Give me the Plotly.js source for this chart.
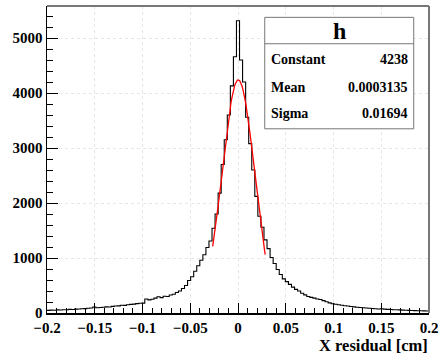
<!DOCTYPE html>
<html>
<head>
<meta charset="utf-8">
<script src="https://cdn.plot.ly/plotly-3.0.1.min.js"></script>
<style>html,body{margin:0;padding:0;background:#fff;}#chart{width:444px;height:354px;}</style>
</head>
<body>
<div id="chart"></div>
<script>
// Histogram: 125 bins over [-0.2, 0.2]
const xMin = -0.2;
const xMax = 0.2;
const counts = [
  48, 52, 50, 56, 54, 60, 58, 66, 63, 70,
  74, 78, 80, 86, 92, 110, 96, 100, 104, 112,
  110, 120, 126, 130, 140, 138, 150, 156, 162, 170,
  176, 180, 255, 238, 250, 270, 296, 280, 305, 300,
  328, 340, 372, 400, 445, 500, 590, 660, 760, 860,
  960, 1060, 1190, 1310, 1540, 1800, 2180, 2700, 3150, 3600,
  4130, 4660, 5315, 4600, 4200, 3560, 3080, 2600, 2120, 1760,
  1560, 1330, 1170, 1010, 900, 790, 700, 620, 570, 520,
  470, 430, 400, 360, 330, 300, 285, 270, 255, 245,
  225, 205, 185, 168, 160, 150, 140, 132, 126, 118,
  112, 104, 100, 95, 90, 86, 82, 78, 74, 76,
  70, 66, 64, 60, 58, 56, 52, 50, 48, 46,
  44, 42, 40, 38, 36
];
// Gaussian fit parameters (stats box)
const fitConstant = 4238;
const fitMean = 0.0003135;
const fitSigma = 0.01694;
const fitRange = [-0.0265, 0.0285];
const statLabels = ["Constant", "Mean", "Sigma"];
const statValues = ["4238", "0.0003135", "0.01694"];
const xTickVals = [-0.2, -0.15, -0.1, -0.05, 0, 0.05, 0.1, 0.15, 0.2];
const xTickText = ["\u22120.2", "\u22120.15", "\u22120.1", "\u22120.05", "0", "0.05", "0.1", "0.15", "0.2"];
const yTickVals = [0, 1000, 2000, 3000, 4000, 5000];

const nBins = counts.length;
const bw = (xMax - xMin) / nBins;
const hx = [], hy = [];
for (let i = 0; i < nBins; i++) { hx.push(xMin + i * bw); hy.push(counts[i]); }
hx.push(xMax); hy.push(counts[nBins - 1]);

const fx = [], fy = [];
const npx = 100;
for (let k = 0; k <= npx; k++) {
  const x = fitRange[0] + (fitRange[1] - fitRange[0]) * k / npx;
  fx.push(x);
  fy.push(fitConstant * Math.exp(-0.5 * Math.pow((x - fitMean) / fitSigma, 2)));
}

const serif = "'Liberation Serif', 'Times New Roman', serif";
const tickFont = {family: serif, size: 15, color: "#000", weight: "bold"};

const traces = [
  {x: hx, y: hy, type: "scatter", mode: "lines", line: {shape: "hv", color: "#000", width: 1.1}, hoverinfo: "skip"},
  {x: fx, y: fy, type: "scatter", mode: "lines", line: {color: "#ff0000", width: 1.3}, hoverinfo: "skip"}
];

const bx0 = 0.57, bx1 = 0.96, by1 = 0.963, by0 = 0.60;
const hdrY = 0.877;
const rowY = [0.827, 0.736, 0.651];
const annotations = [
  {xref: "paper", yref: "paper", x: 1.002, y: -0.069, xanchor: "right", yanchor: "top", text: "X residual [cm]", showarrow: false, font: {family: serif, size: 16.5, color: "#000", weight: "bold"}},
  {xref: "paper", yref: "paper", x: (bx0 + bx1) / 2, y: (by1 + hdrY) / 2, xanchor: "center", yanchor: "middle", text: "h", showarrow: false, font: {family: serif, size: 24, color: "#000", weight: "bold"}}
];
for (let r = 0; r < statLabels.length; r++) {
  annotations.push({xref: "paper", yref: "paper", x: bx0 + 0.012, y: rowY[r], xanchor: "left", yanchor: "middle", text: statLabels[r], showarrow: false, font: {family: serif, size: 14, color: "#000", weight: "bold"}});
  annotations.push({xref: "paper", yref: "paper", x: bx1 - 0.01, y: rowY[r], xanchor: "right", yanchor: "middle", text: statValues[r], showarrow: false, font: {family: serif, size: 14, color: "#000", weight: "bold"}});
}

const layout = {
  width: 444, height: 354,
  margin: {l: 47, r: 15, t: 6, b: 41, pad: 0},
  paper_bgcolor: "#fff", plot_bgcolor: "#fff",
  showlegend: false,
  xaxis: {
    range: [xMin, xMax], tickvals: xTickVals, ticktext: xTickText,
    ticks: "inside", ticklen: 10, tickwidth: 1, tickcolor: "#000",
    minor: {dtick: 0.01, tick0: 0, ticks: "inside", ticklen: 5, tickcolor: "#000", showgrid: false},
    showline: true, linecolor: "#000", linewidth: 1.5,
    showgrid: true, gridcolor: "#e6e6e6", griddash: "dot", gridwidth: 1,
    zeroline: false, tickfont: tickFont, fixedrange: true
  },
  yaxis: {
    range: [0, 5582], tickvals: yTickVals,
    ticks: "inside", ticklen: 11, tickwidth: 1, tickcolor: "#000",
    minor: {dtick: 200, tick0: 0, ticks: "inside", ticklen: 6, tickcolor: "#000", showgrid: false},
    showline: true, linecolor: "#000", linewidth: 1.5,
    showgrid: true, gridcolor: "#e6e6e6", griddash: "dot", gridwidth: 1,
    zeroline: false, tickfont: tickFont, fixedrange: true
  },
  shapes: [
    {type: "line", xref: "paper", yref: "paper", x0: 0, x1: 1, y0: 1, y1: 1, line: {color: "#777", width: 2}},
    {type: "line", xref: "paper", yref: "paper", x0: 1, x1: 1, y0: 0, y1: 1, line: {color: "#777", width: 2}},
    {type: "rect", xref: "paper", yref: "paper", x0: bx0, x1: bx1, y0: by0, y1: by1, line: {color: "#777", width: 1}, fillcolor: "#fff", layer: "above"},
    {type: "line", xref: "paper", yref: "paper", x0: bx0, x1: bx1, y0: hdrY, y1: hdrY, line: {color: "#777", width: 1}, layer: "above"}
  ],
  annotations: annotations
};

Plotly.newPlot("chart", traces, layout, {displayModeBar: false, staticPlot: true});
</script>
</body>
</html>
